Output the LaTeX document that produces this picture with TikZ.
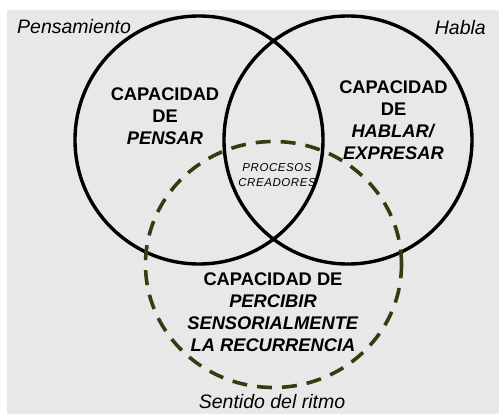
\documentclass[tikz,border=0pt]{standalone}
\usepackage{fontspec}
\setmainfont{Liberation Sans}
\newfontfamily\spacedfont[LetterSpace=5]{Liberation Sans}
\usetikzlibrary{shapes.geometric}
\definecolor{bggray}{RGB}{232,232,232}
\definecolor{dasholive}{RGB}{58,58,18}
\tikzset{
  bigcirc/.style={circle, draw=black, line width=3.4pt, minimum size=248pt, inner sep=0pt},
  dashring/.style={ellipse, draw=dasholive, line width=3.6pt, dash pattern=on 15pt off 10pt, minimum width=256pt, minimum height=246pt, inner sep=0pt},
  boldlabel/.style={align=center, inner sep=0pt, font=\fontsize{18.3}{22}\selectfont\bfseries},
  setlabel/.style={inner sep=0pt, font=\fontsize{19.5}{22}\selectfont\itshape},
  smalllabel/.style={align=center, inner sep=0pt, font=\fontsize{11.5}{15}\selectfont\spacedfont\itshape}
}
\begin{document}
\begin{tikzpicture}[x=1pt,y=-1pt]
\useasboundingbox (0,0) rectangle (499,414);
\fill[white] (0,0) rectangle (499,414);
\fill[bggray] (7,10) rectangle (499,414);
\node[bigcirc] (pens) at (199,140) {};
\node[bigcirc] (habl) at (348,140) {};
\node[dashring] (ritmo) at (273.5,264.5) {};
\node[setlabel, anchor=base west] (lpens) at (17,34) {Pensamiento};
\node[setlabel, anchor=base east] (lhabl) at (486,35) {Habla};
\node[setlabel, anchor=base] (lritmo) at (272,409) {Sentido del ritmo};
\node[boldlabel] (tpens) at (165,116) {CAPACIDAD\\DE\\\textit{PENSAR}};
\node[boldlabel] (thabl) at (393.5,120) {CAPACIDAD\\DE\\\textit{HABLAR/}\\\textit{EXPRESAR}};
\node[boldlabel] (tritmo) at (273,312.5) {CAPACIDAD DE\\\textit{PERCIBIR}\\\textit{SENSORIALMENTE}\\\textit{LA RECURRENCIA}};
\node[smalllabel] (tproc) at (277,175.5) {PROCESOS\\CREADORES};
\end{tikzpicture}
\end{document}
